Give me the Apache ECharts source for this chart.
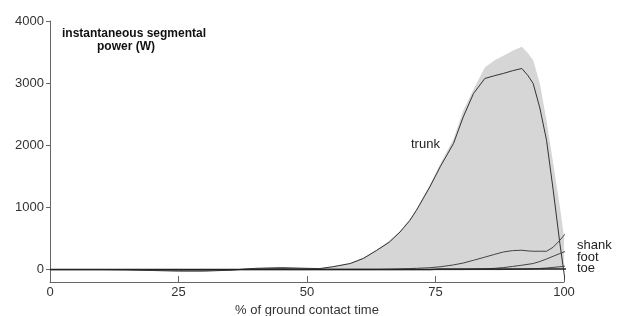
<!DOCTYPE html>
<html>
<head>
<meta charset="utf-8">
<script src="https://cdn.jsdelivr.net/npm/echarts@6/dist/echarts.min.js"></script>
<style>
html,body{margin:0;padding:0;background:#fff;}
#chart{width:622px;height:316px;}
</style>
</head>
<body>
<div id="chart"></div>
<script>
// % of ground contact time (shared grid)
const xPct = [0, 5, 10, 15, 20, 25, 30, 35, 40, 45, 50, 52.5, 55, 58.4, 61, 63.6, 66, 68.1, 70, 71.3, 73.9, 75.9, 78.5, 80.4, 82.4, 84.6, 86.5, 88.2, 90, 91.8, 93, 94, 95.3, 96.6, 97.9, 99.2, 100.2, 100.9, 101.2];
// instantaneous segmental power (W)
const total = [0, 0, 0, 0, 0, 0, 0, 0, 25, 35, 25, 20, 55, 105, 200, 325, 465, 620, 810, 980, 1365, 1700, 2100, 2560, 2900, 3250, 3370, 3440, 3520, 3584, 3480, 3370, 2995, 2400, 1707, 1008, 419, 0, null];
const trunk = [0, 0, 0, -5, -15, -25, -25, -10, 20, 30, 20, 16, 45, 97, 180, 311, 440, 605, 790, 955, 1330, 1652, 2029, 2457, 2834, 3075, 3120, 3156, 3200, 3236, 3120, 2995, 2600, 2082, 1277, 419, -172, null, null];
const thigh = [0, 0, 0, 0, -5, -10, -10, -5, 10, 15, 8, 5, 5, 5, 5, 5, 8, 12, 16, 20, 30, 45, 75, 105, 150, 200, 245, 283, 305, 311, 300, 295, 295, 295, 360, 472, 570, 630, 660];
const shank = [0, 0, 0, 0, 0, 0, 0, 0, 0, 0, 0, 0, 0, 0, 0, 0, 0, 0, 0, 0, 0, 0, 0, 0, 5, 10, 20, 32, 50, 70, 85, 97, 130, 170, 215, 258, 290, 315, 322];
const foot = [0, 0, 0, 0, 0, 0, 0, 0, 0, 0, 0, 0, 0, 0, 0, 0, 0, 0, 0, 0, 0, 0, 0, 0, 0, 0, 0, 0, 3, 5, 8, 10, 18, 25, 35, 45, 55, 60, 60];
const toe = [0, 0, 0, 0, 0, 0, 0, 0, 0, 0, 0, 0, 0, 0, 0, 0, 0, 0, 0, 0, 0, 10, 10, 10, 10, 10, 10, 10, 10, 10, 10, 10, 10, 10, 10, 10, 10, 10, 10];
const xTicks = [0, 25, 50, 75, 100];
const yTicks = [0, 1000, 2000, 3000, 4000];

const pairs = arr => xPct.map((x, i) => [x, arr[i]]);

const chart = echarts.init(document.getElementById('chart'), null, {renderer: 'canvas'});
const font = 'Liberation Sans, Arial, sans-serif';
const lineSeries = (name, arr, color, width, z) => ({
  name, type: 'line', data: pairs(arr), showSymbol: false, symbol: 'none',
  clip: false, connectNulls: false, smooth: false, z,
  lineStyle: {color, width}, emphasis: {disabled: true}
});

chart.setOption({
  animation: false,
  backgroundColor: '#fff',
  grid: {left: 50, right: 58, top: 21, bottom: 34, containLabel: false, outerBoundsMode: 'none'},
  xAxis: {
    type: 'value', min: 0, max: 100, interval: 25,
    axisLine: {show: true, onZero: false, lineStyle: {color: '#666', width: 1}},
    axisTick: {show: true, inside: true, length: 6, lineStyle: {color: '#666'}},
    axisLabel: {color: '#333', fontFamily: font, fontSize: 13, margin: 4, customValues: xTicks, formatter: v => String(v)},
    splitLine: {show: false},
    name: '% of ground contact time', nameLocation: 'middle', nameGap: 17,
    nameTextStyle: {color: '#333', fontFamily: font, fontSize: 13, verticalAlign: 'top'}
  },
  yAxis: {
    type: 'value', min: -200, max: 4000,
    axisLine: {show: true, onZero: false, lineStyle: {color: '#666', width: 1}},
    axisTick: {show: true, inside: false, length: 4, lineStyle: {color: '#666'}, customValues: yTicks},
    axisLabel: {color: '#333', fontFamily: font, fontSize: 13, margin: 6, customValues: yTicks, formatter: v => String(v)},
    splitLine: {show: false}
  },
  series: [
    {
      name: 'total', type: 'line', data: pairs(total), showSymbol: false, symbol: 'none',
      clip: false, z: 1, lineStyle: {width: 0, color: '#d6d6d6'},
      areaStyle: {color: '#d6d6d6', opacity: 1}, emphasis: {disabled: true}
    },
    lineSeries('trunk', trunk, '#333', 1, 3),
    lineSeries('thigh', thigh, '#444', 1, 3),
    lineSeries('shank', shank, '#444', 1, 3),
    lineSeries('foot', foot, '#444', 1, 3),
    lineSeries('toe', toe, '#222', 1.6, 4)
  ],
  graphic: [
    {type: 'text', left: 62, top: 28, style: {text: 'instantaneous segmental', font: 'bold 12px ' + font, fill: '#111'}},
    {type: 'text', left: 97, top: 41, style: {text: 'power (W)', font: 'bold 12px ' + font, fill: '#111'}},
    {type: 'text', left: 411, top: 138, style: {text: 'trunk', font: '13px ' + font, fill: '#222'}},
    {type: 'text', left: 472, top: 230, style: {text: 'thigh', font: '13px ' + font, fill: '#222'}},
    {type: 'text', left: 577, top: 239, style: {text: 'shank', font: '13px ' + font, fill: '#222'}},
    {type: 'text', left: 577, top: 251, style: {text: 'foot', font: '13px ' + font, fill: '#222'}},
    {type: 'text', left: 577, top: 262, style: {text: 'toe', font: '13px ' + font, fill: '#222'}}
  ]
});
</script>
</body>
</html>
